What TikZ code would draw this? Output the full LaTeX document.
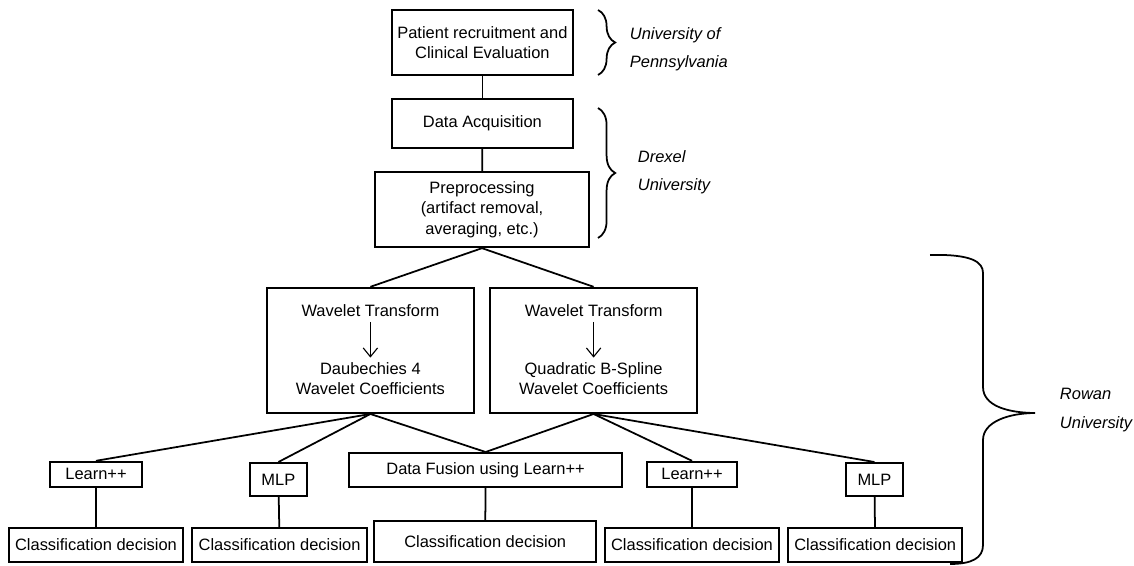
\documentclass[tikz,border=0pt]{standalone}
\usepackage{fontspec}
\setmainfont{Liberation Sans}
\usetikzlibrary{arrows.meta,decorations.pathreplacing}

\begin{document}
\begin{tikzpicture}[>={Straight Barb[length=2.2mm,width=3.6mm]},
  every node/.style={font=\fontsize{11.7}{14.5}\selectfont},
  box/.style={draw,line width=1.4pt,inner sep=0pt,align=center},
  lnk/.style={line width=1.25pt},
  uni/.style={font=\fontsize{11.7}{20}\selectfont\itshape,align=left,anchor=west}]
  \useasboundingbox (0,0) rectangle (28.35,14.15);
  % recruitment, acquisition and preprocessing
  \node[box,minimum width=4.53cm,minimum height=1.63cm] (pat) at (12.06,13.09) {Patient recruitment and\\Clinical Evaluation};
  \node[box,minimum width=4.53cm,minimum height=1.23cm] (acq) at (12.06,11.06) {Data Acquisition};
  \node[box,minimum width=5.35cm,minimum height=1.88cm] (pre) at (12.05,8.91) {Preprocessing\\(artifact removal,\\averaging, etc.)};
  \draw[lnk] (pat) -- (acq);
  \draw[lnk] (acq) -- (pre);
  % wavelet boxes
  \node[box,minimum width=5.18cm,minimum height=3.13cm] (wavL) at (9.26,5.39) {};
  \node (wavLt) at ([yshift=-0.6cm]wavL.north) {Wavelet Transform};
  \node[align=center] (wavLc) at ([yshift=-2.3cm]wavL.north) {Daubechies 4\\Wavelet Coefficients};
  \draw[->,line width=0.8pt] (wavLt) -- (wavLc);
  \node[box,minimum width=5.18cm,minimum height=3.13cm] (wavR) at (14.84,5.39) {};
  \node (wavRt) at ([yshift=-0.6cm]wavR.north) {Wavelet Transform};
  \node[align=center] (wavRc) at ([yshift=-2.3cm]wavR.north) {Quadratic B-Spline\\Wavelet Coefficients};
  \draw[->,line width=0.8pt] (wavRt) -- (wavRc);
  \draw[lnk] (pre.south) -- (wavL.north);
  \draw[lnk] (pre.south) -- (wavR.north);
  % classifiers
  \node[box,minimum width=2.3cm,minimum height=0.63cm] (lrnL) at (2.4,2.29) {Learn++};
  \node[box,minimum width=1.43cm,minimum height=0.83cm] (mlpL) at (6.96,2.16) {MLP};
  \node[box,minimum width=6.83cm,minimum height=0.85cm] (fus) at (12.14,2.4) {Data Fusion using Learn++};
  \node[box,minimum width=2.25cm,minimum height=0.63cm] (lrnR) at (17.3,2.29) {Learn++};
  \node[box,minimum width=1.43cm,minimum height=0.83cm] (mlpR) at (21.86,2.16) {MLP};
  \foreach \t in {lrnL,mlpL,fus} \draw[lnk] (wavL.south) -- (\t.north);
  \foreach \t in {fus,lrnR,mlpR} \draw[lnk] (wavR.south) -- (\t.north);
  % decisions
  \foreach \n/\x in {cd1/2.4,cd2/6.99,cd4/17.3,cd5/21.88}
    \node[box,minimum width=4.36cm,minimum height=0.85cm] (\n) at (\x,0.525) {Classification decision};
  \node[box,minimum width=5.55cm,minimum height=1.03cm] (cd3) at (12.13,0.61) {Classification decision};
  \foreach \a/\b in {lrnL/cd1,mlpL/cd2,fus/cd3,lrnR/cd4,mlpR/cd5} \draw[lnk] (\a) -- (\b);
  % universities
  \draw[lnk,decorate,decoration={brace,amplitude=0.43cm}] (14.95,13.9) -- (14.95,12.275);
  \node[uni] (upenn) at (15.625,12.925) {University of\\Pennsylvania};
  \draw[lnk,decorate,decoration={brace,amplitude=0.43cm}] (14.95,11.45) -- (14.95,8.2);
  \node[uni] (drexel) at (15.825,9.84) {Drexel\\University};
  \draw[lnk] (23.25,7.775) .. controls (24.3,7.8) and (24.575,7.6) .. (24.575,7.325) -- (24.575,4.475)
    .. controls (24.575,4.0) and (25.2,3.83) .. (25.875,3.825)
    .. controls (25.2,3.82) and (24.575,3.6) .. (24.575,3.15) -- (24.575,0.525)
    .. controls (24.575,0.2) and (24.3,0.05) .. (23.75,0.05);
  \node[uni] (rowan) at (26.375,3.9) {Rowan\\University};
\end{tikzpicture}
\end{document}
